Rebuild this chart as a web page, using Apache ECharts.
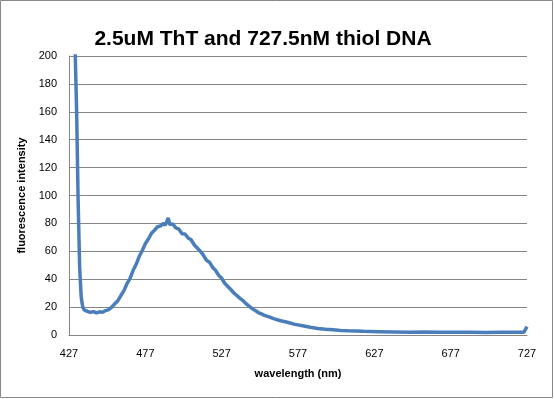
<!DOCTYPE html>
<html>
<head>
<meta charset="utf-8">
<script src="https://cdn.jsdelivr.net/npm/echarts@6/dist/echarts.min.js"></script>
<style>
  html, body { margin: 0; padding: 0; background: #fff; }
  #main { width: 554px; height: 399px; }
</style>
</head>
<body>
<div id="main"></div>
<script>
// wavelength (nm) and fluorescence intensity
var wavelengths = [
  427, 429, 431, 432, 433, 434, 435, 436, 437, 439, 441, 443, 445, 447, 449, 451, 453, 455,
  457, 459, 461, 463, 465, 467, 469, 471, 473, 475, 477, 479, 481, 483, 485, 487, 489, 490,
  491, 492, 493, 495, 497, 499, 501, 503, 505, 507, 509, 511, 513, 515, 517, 519, 521, 523,
  525, 527, 529, 531, 533, 535, 537, 539, 541, 543, 545, 547, 549, 551, 553, 555, 557, 559,
  561, 565, 570, 575, 580, 585, 590, 595, 600, 605, 610, 615, 620, 630, 640, 650, 660, 670,
  680, 690, 700, 710, 720, 725, 726, 727
];
var intensity = [
  420, 310, 205, 160, 95, 48, 27, 20, 18, 17, 16.2, 16.8, 15.9, 16.6, 16.3, 17.5, 18.2, 20,
  22.4, 24.6, 28.3, 31.8, 36.9, 40.6, 46.4, 50.7, 56.3, 60.6, 65.4, 68.8, 72.9, 75.1, 77.6, 78.2, 80.1, 78.6,
  81.2, 84, 79.2, 79.6, 76.8, 75.9, 72.6, 72.4, 69.6, 68.3, 64.7, 62.4, 60.1, 57.3, 53.6, 52.2, 48.6, 46.3,
  42.8, 40.7, 37.1, 34.8, 32.6, 30.1, 28.2, 26.3, 24.6, 22.4, 20.7, 18.8, 17.6, 16.1, 15.2, 14.1, 13.4, 12.6,
  11.7, 10.4, 9.1, 7.6, 6.6, 5.6, 4.7, 4.1, 3.7, 3.3, 3.0, 2.8, 2.6, 2.4, 2.2, 2.0, 2.1, 1.9,
  1.9, 2.0, 1.8, 1.9, 1.9, 2.0, 2.2, 6
];
var xStart = 427;
var xTicks = [427, 477, 527, 577, 627, 677, 727];
var yTicks = [0, 20, 40, 60, 80, 100, 120, 140, 160, 180, 200];

var main = document.getElementById('main');
var myChart = echarts.init(main, null, { renderer: 'canvas' });

// x axis runs from 0 at 427 nm, labels add the offset back
var points = wavelengths.map(function (w, i) { return [w - xStart, intensity[i]]; });

var labelFont = '"Liberation Sans", Arial, sans-serif';

myChart.setOption({
  animation: false,
  backgroundColor: '#fff',
  title: {
    text: '2.5uM ThT and 727.5nM thiol DNA',
    left: 258,
    top: 24,
    textAlign: 'center',
    textStyle: { fontFamily: labelFont, fontSize: 21, fontWeight: 'bold', color: '#000' }
  },
  graphic: [{
    type: 'rect',
    shape: { x: 0.5, y: 0.5, width: 552, height: 397 },
    style: { fill: 'none', stroke: '#888', lineWidth: 1 },
    silent: true
  }],
  grid: { left: 69, right: 27, top: 56, bottom: 64 },
  xAxis: {
    type: 'value',
    min: 0,
    max: xTicks[xTicks.length - 1] - xStart,
    interval: 50,
    name: 'wavelength (nm)',
    nameLocation: 'middle',
    nameGap: 33,
    nameTextStyle: { fontFamily: labelFont, fontSize: 11, fontWeight: 'bold', color: '#000' },
    axisLine: { lineStyle: { color: '#868686', width: 1 } },
    axisTick: { show: false },
    splitLine: { show: false },
    axisLabel: {
      color: '#000', fontFamily: labelFont, fontSize: 11, margin: 13,
      formatter: function (v) { return String(v + xStart); }
    }
  },
  yAxis: {
    type: 'value',
    min: yTicks[0],
    max: yTicks[yTicks.length - 1],
    interval: 20,
    name: 'fluorescence intensity',
    nameLocation: 'middle',
    nameGap: 35,
    nameTextStyle: { fontFamily: labelFont, fontSize: 11, fontWeight: 'bold', color: '#000' },
    axisLine: { show: true, lineStyle: { color: '#868686', width: 1 } },
    axisTick: { show: false },
    splitLine: { lineStyle: { color: '#868686', width: 1 } },
    axisLabel: { color: '#000', fontFamily: labelFont, fontSize: 11, margin: 12 }
  },
  series: [{
    type: 'line',
    data: points,
    showSymbol: false,
    clip: true,
    lineStyle: { color: '#4a7ebb', width: 3.5 },
    itemStyle: { color: '#4a7ebb' }
  }]
});
</script>
</body>
</html>
